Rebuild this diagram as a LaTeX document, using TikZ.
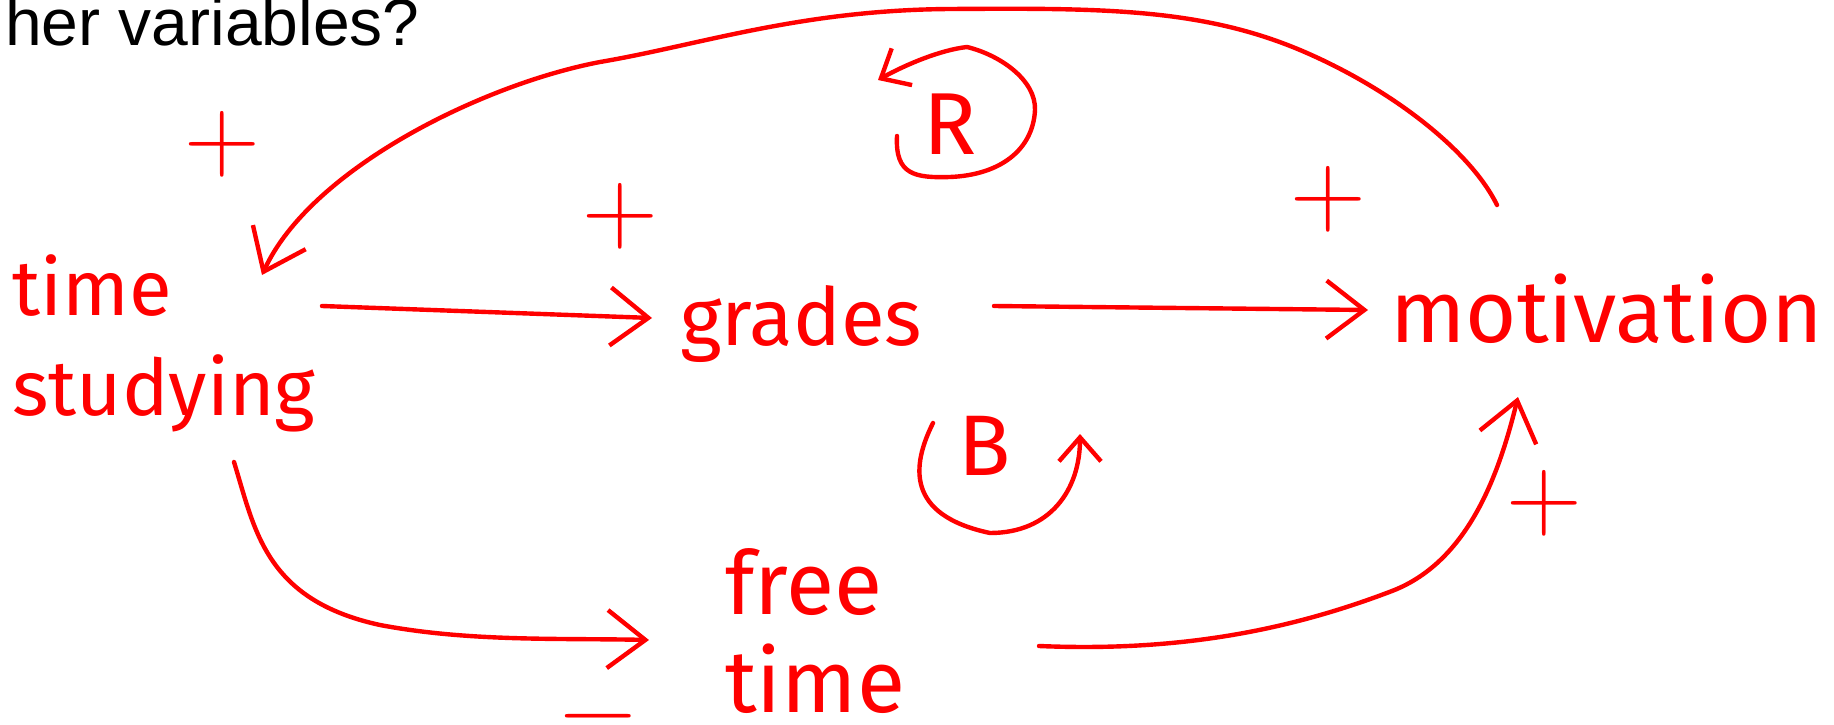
\documentclass[tikz,border=0pt]{standalone}
\usepackage{fontspec}
\newfontfamily\titlefont{Liberation Sans}
\newfontfamily\hand{Fira Sans}
\usetikzlibrary{arrows.meta}
\definecolor{ink}{RGB}{255,0,0}
\tikzset{
  lbl/.style={text=ink, inner sep=0pt, font=\hand\fontsize{80}{100}\selectfont},
  sign/.style={text=ink, inner sep=0pt, font=\rmfamily\fontsize{105}{105}\selectfont},
  arr/.style={draw=ink, line width=4.4pt, line cap=round, line join=round, -{Straight Barb[length=38pt,width=58pt]}},
  looparr/.style={draw=ink, line width=4.4pt, line cap=round, line join=round, -{Straight Barb[length=24pt,width=42pt]}},
}
\begin{document}
\begin{tikzpicture}[x=1pt,y=-1pt]
\useasboundingbox[fill=white] (0,0) rectangle (1834,725);
% title fragment
\node[inner sep=0pt, anchor=base east, font=\titlefont\fontsize{66}{70}\selectfont] (q) at (420,46) {her variables?};
% variables
\node[lbl, anchor=north west, align=left, font=\hand\fontsize{78}{100}\selectfont] (ts) at (12,254) {time\\studying};
\node[lbl, anchor=base west] (gr) at (680,345) {grades};
\node[lbl, anchor=base west, font=\hand\fontsize{88}{100}\selectfont] (mo) at (1390,342) {motivation};
\node[lbl, anchor=north west, align=left, font=\hand\fontsize{88}{98}\selectfont] (ft) at (725,548) {free\\time};
% polarity signs
\node[sign] (p1) at (222,144) {+};
\node[sign] (p2) at (620,216) {+};
\node[sign] (p3) at (1328,199) {+};
\node[sign] (p4) at (1544,503) {+};
\node[sign] (m1) at (598,728) {−};
% loop labels
\node[lbl, font=\hand\fontsize{88}{100}\selectfont] (R) at (950,124) {R};
\node[lbl, font=\hand\fontsize{86}{100}\selectfont] (B) at (985,446) {B};
% connectors
\draw[arr] ([shift={(310,52)}]ts.north west) -- ([shift={(-28,-27)}]gr.base west);
\draw[arr] ([shift={(314,-39)}]gr.base west) -- ([shift={(-22,-32)}]mo.base west);
\draw[arr] ([shift={(107,-137)}]mo.base west)
  .. controls (1470,150) and (1390,88) .. (1300,50)
  .. controls (1200,8) and (1100,8) .. (950,9)
  .. controls (800,10) and (700,45) .. (600,62)
  .. controls (480,85) and (310,170) .. ([shift={(250,21)}]ts.north west);
\draw[arr] ([shift={(222,208)}]ts.north west)
  .. controls (255,530) and (265,600) .. (380,625)
  .. controls (470,642) and (560,638) .. ([shift={(-76,92)}]ft.north west);
\draw[arr] ([shift={(314,98)}]ft.north west)
  .. controls (1180,652) and (1290,630) .. (1392,591)
  .. controls (1470,561) and (1500,470) .. ([shift={(128,55)}]mo.base west);
% loop arrows
\draw[looparr] (897,136) .. controls (895,175) and (915,178) .. (950,177)
  .. controls (1000,175) and (1033,150) .. (1035,110)
  .. controls (1036,80) and (1000,55) .. (967,47)
  .. controls (940,50) and (905,65) .. (878,80);
\draw[looparr] (933,423) .. controls (912,465) and (905,515) .. (990,533)
  .. controls (1050,533) and (1080,490) .. (1080,434);
\end{tikzpicture}
\end{document}
